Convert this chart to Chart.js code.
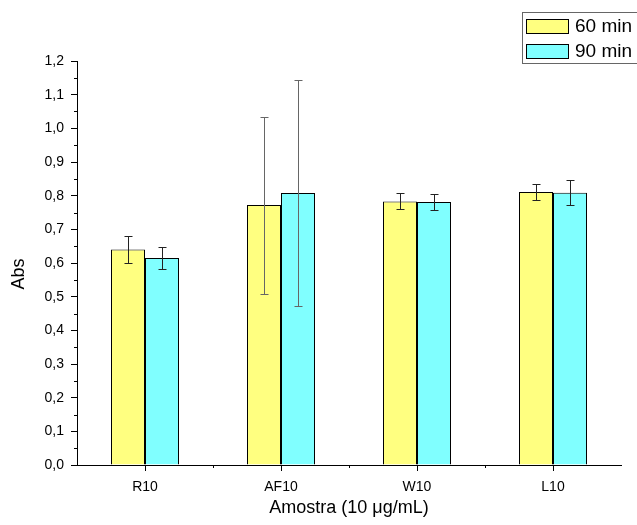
<!DOCTYPE html>
<html>
<head>
<meta charset="utf-8">
<script src="https://cdn.jsdelivr.net/npm/chart.js@4"></script>
<style>
  html, body { margin: 0; padding: 0; background: #fff; }
  #wrap { width: 637px; height: 525px; }
</style>
</head>
<body>
<div id="wrap"><canvas id="absChart" width="637" height="525"></canvas></div>
<script>
// amostras e leituras de absorbância
const samples = ['R10', 'AF10', 'W10', 'L10'];
const abs60 = [0.640, 0.772, 0.783, 0.811];
const abs90 = [0.615, 0.808, 0.781, 0.809];
const err60 = [0.040, 0.263, 0.024, 0.024];
const err90 = [0.033, 0.335, 0.024, 0.037];
const seriesNames = ['60 min', '90 min'];
const yTicks = [0, 0.1, 0.2, 0.3, 0.4, 0.5, 0.6, 0.7, 0.8, 0.9, 1.0, 1.1, 1.2];
const xTitle = 'Amostra (10 μg/mL)';
const yTitle = 'Abs';

const FONT = 'Liberation Sans, Arial, sans-serif';
Chart.defaults.font.family = FONT;
Chart.defaults.color = '#000';

//----------------------------error bars + minor ticks + legend------------------
const errorBars = {
  id: 'errorBars',
  afterDatasetsDraw(chart) {
    const ctx = chart.ctx;
    const y = chart.scales.y;
    chart.data.datasets.forEach((ds, di) => {
      const meta = chart.getDatasetMeta(di);
      meta.data.forEach((bar, i) => {
        const v = ds.data[i], e = ds.errors[i];
        const top = Math.round(y.getPixelForValue(v + e)) + 0.5;
        const bot = Math.round(y.getPixelForValue(v - e)) + 0.5;
        const x = Math.round(bar.x) + 0.5;
        ctx.save();
        ctx.strokeStyle = e > 0.1 ? '#666' : '#222';
        ctx.lineWidth = 1;
        ctx.beginPath();
        ctx.moveTo(x, top); ctx.lineTo(x, bot);
        ctx.moveTo(x - 4, top); ctx.lineTo(x + 4, top);
        ctx.moveTo(x - 4, bot); ctx.lineTo(x + 4, bot);
        ctx.stroke();
        ctx.restore();
      });
    });
  }
};

const minorTicks = {
  id: 'minorTicks',
  afterDraw(chart) {
    const ctx = chart.ctx;
    const y = chart.scales.y, x = chart.scales.x;
    const area = chart.chartArea;
    ctx.save();
    ctx.strokeStyle = '#000';
    ctx.lineWidth = 1;
    ctx.beginPath();
    for (let i = 0; i < yTicks.length - 1; i++) {
      const py = Math.round(y.getPixelForValue(yTicks[i] + 0.05)) + 0.5;
      ctx.moveTo(area.left, py); ctx.lineTo(area.left - 3, py);
    }
    for (let i = 0; i < samples.length - 1; i++) {
      const px = Math.round((x.getPixelForValue(i) + x.getPixelForValue(i + 1)) / 2) + 0.5;
      ctx.moveTo(px, area.bottom); ctx.lineTo(px, area.bottom + 3);
    }
    ctx.stroke();

    // axis titles
    ctx.fillStyle = '#000';
    ctx.font = '18px ' + FONT;
    ctx.textAlign = 'center';
    ctx.textBaseline = 'middle';
    ctx.fillText(xTitle, (area.left + area.right) / 2, 508);
    ctx.translate(19, 274);
    ctx.rotate(-Math.PI / 2);
    ctx.fillText(yTitle, 0, 0);
    ctx.restore();
  }
};

const boxLegend = {
  id: 'boxLegend',
  afterDraw(chart) {
    const ctx = chart.ctx;
    ctx.save();
    ctx.strokeStyle = '#666';
    ctx.lineWidth = 1;
    ctx.strokeRect(522.5, 12.5, 130, 51);
    ctx.font = '19px ' + FONT;
    ctx.textBaseline = 'middle';
    chart.data.datasets.forEach((ds, i) => {
      const top = 19 + i * 25;
      ctx.fillStyle = ds.backgroundColor;
      ctx.fillRect(526, top, 43, 15);
      ctx.strokeStyle = '#000';
      ctx.strokeRect(526.5, top + 0.5, 42, 14);
      ctx.fillStyle = '#000';
      ctx.fillText(ds.label, 575, top + 8);
    });
    ctx.restore();
  }
};

//----------------------------Chart-----------------------------------------------
const ctx = document.getElementById('absChart').getContext('2d');
const absChart = new Chart(ctx, {
  type: 'bar',
  data: {
    labels: samples,
    datasets: [
      { label: seriesNames[0], data: abs60, errors: err60,
        backgroundColor: '#FFFF80', borderColor: '#000', borderWidth: 1 },
      { label: seriesNames[1], data: abs90, errors: err90,
        backgroundColor: '#80FFFF', borderColor: '#000', borderWidth: 1 }
    ]
  },
  options: {
    responsive: false,
    animation: false,
    layout: { padding: { left: 0, top: 61, right: 16, bottom: 0 } },
    datasets: { bar: { categoryPercentage: 0.5, barPercentage: 1.0 } },
    plugins: { legend: { display: false }, tooltip: { enabled: false } },
    scales: {
      x: {
        offset: true,
        grid: { display: true, drawOnChartArea: false, offset: false, tickLength: 6, color: '#000' },
        border: { color: '#000', width: 1 },
        ticks: { font: { size: 14 }, padding: 8 },
        afterFit(scale) { scale.height = 60; }
      },
      y: {
        min: 0, max: 1.2,
        afterBuildTicks(scale) { scale.ticks = yTicks.map(v => ({ value: v })); },
        grid: { display: true, drawOnChartArea: false, tickLength: 6, color: '#000' },
        border: { color: '#000', width: 1 },
        ticks: { font: { size: 14 }, padding: 7,
          callback: v => v.toFixed(1).replace('.', ',') },
        afterFit(scale) { scale.width = 77; }
      }
    }
  },
  plugins: [errorBars, minorTicks, boxLegend]
});
</script>
</body>
</html>
